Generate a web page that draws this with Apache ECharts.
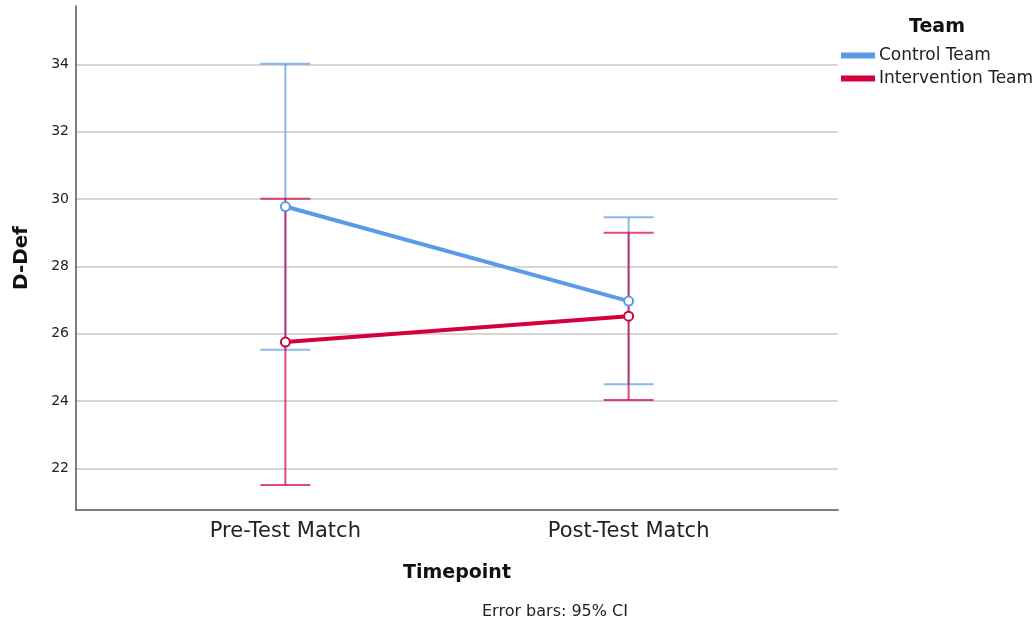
<!DOCTYPE html>
<html>
<head>
<meta charset="utf-8">
<script src="https://cdn.jsdelivr.net/npm/echarts@6/dist/echarts.min.js"></script>
<style>html,body{margin:0;padding:0;background:#fff}#c{width:1035px;height:626px}</style>
</head>
<body>
<div id="c"></div>
<script>
const categories = ['Pre-Test Match', 'Post-Test Match'];
const teams = ['Control Team', 'Intervention Team'];
const controlMean = [29.78, 26.97];
const controlLow = [25.52, 24.50];
const controlHigh = [34.02, 29.46];
const interventionMean = [25.75, 26.52];
const interventionLow = [21.50, 24.03];
const interventionHigh = [30.01, 29.00];
const yTicks = [22, 24, 26, 28, 30, 32, 34];

const FONT = 'DejaVu Sans';
const BLUE = '#5b9ae8';
const RED = '#d2003c';

function errSeries(name, low, high, color, z) {
  return {
    type: 'custom', name: name + ' CI', z: z, silent: true,
    data: low.map((l, i) => [i, l, high[i]]),
    renderItem: function (params, api) {
      const x = api.value(0);
      const lo = api.coord([x, api.value(1)]);
      const hi = api.coord([x, api.value(2)]);
      const w = 25;
      const style = { stroke: color, lineWidth: 2, opacity: 0.7 };
      return {
        type: 'group',
        children: [
          { type: 'line', shape: { x1: lo[0], y1: lo[1], x2: hi[0], y2: hi[1] }, style: style },
          { type: 'line', shape: { x1: lo[0] - w, y1: lo[1], x2: lo[0] + w, y2: lo[1] }, style: style },
          { type: 'line', shape: { x1: hi[0] - w, y1: hi[1], x2: hi[0] + w, y2: hi[1] }, style: style }
        ]
      };
    }
  };
}

function lineSeries(name, mean, color, z) {
  return {
    type: 'line', name: name, z: z,
    data: mean.map((m, i) => [i, m]),
    lineStyle: { color: color, width: 4 },
    itemStyle: { color: color, borderColor: color, borderWidth: 1.2 },
    symbol: 'emptyCircle', symbolSize: 9, showSymbol: true,
    emphasis: { disabled: true }
  };
}

const chart = echarts.init(document.getElementById('c'), null, { renderer: 'canvas' });
chart.setOption({
  animation: false,
  backgroundColor: '#fff',
  textStyle: { fontFamily: FONT },
  grid: { left: 76, right: 197, top: 6, bottom: 116, containLabel: false },
  title: {
    text: 'Team', left: 904, top: 13,
    textStyle: { fontFamily: FONT, fontSize: 19, fontWeight: 'bold', color: '#111' }
  },
  legend: {
    data: teams.map(t => ({ name: t, icon: 'rect' })),
    orient: 'vertical', left: 836, top: 42, itemGap: 6,
    itemWidth: 32, itemHeight: 4,
    textStyle: { fontFamily: FONT, fontSize: 17, color: '#222' }
  },
  xAxis: {
    type: 'value', min: -0.61, max: 1.61,
    name: 'Timepoint', nameLocation: 'middle', nameGap: 54,
    nameTextStyle: { fontFamily: FONT, fontSize: 19, fontWeight: 'bold', color: '#111' },
    axisLine: { onZero: false, lineStyle: { color: '#555', width: 1.5 } },
    axisTick: { show: false, customValues: [0, 1] },
    splitLine: { show: false },
    axisLabel: {
      customValues: [0, 1], margin: 11,
      formatter: v => categories[Math.round(v)],
      fontFamily: FONT, fontSize: 21, color: '#222'
    }
  },
  yAxis: {
    type: 'value', min: 20.76, max: 35.74,
    name: 'D-Def', nameLocation: 'middle', nameGap: 44, nameRotate: 90,
    nameTextStyle: { fontFamily: FONT, fontSize: 20, fontWeight: 'bold', color: '#111' },
    axisLine: { show: true, onZero: false, lineStyle: { color: '#555', width: 1.5 } },
    axisTick: { show: false, customValues: yTicks },
    splitLine: { show: true, lineStyle: { color: '#c8c8c8', width: 1.5 } },
    axisLabel: {
      customValues: yTicks, margin: 7,
      fontFamily: FONT, fontSize: 14, color: '#222'
    }
  },
  graphic: [{
    type: 'text', left: 482, top: 604,
    style: { text: 'Error bars: 95% CI', fontFamily: FONT, fontSize: 16, fill: '#222' }
  }],
  series: [
    errSeries(teams[0], controlLow, controlHigh, BLUE, 2),
    errSeries(teams[1], interventionLow, interventionHigh, RED, 3),
    lineSeries(teams[0], controlMean, BLUE, 4),
    lineSeries(teams[1], interventionMean, RED, 5)
  ]
});
</script>
</body>
</html>
